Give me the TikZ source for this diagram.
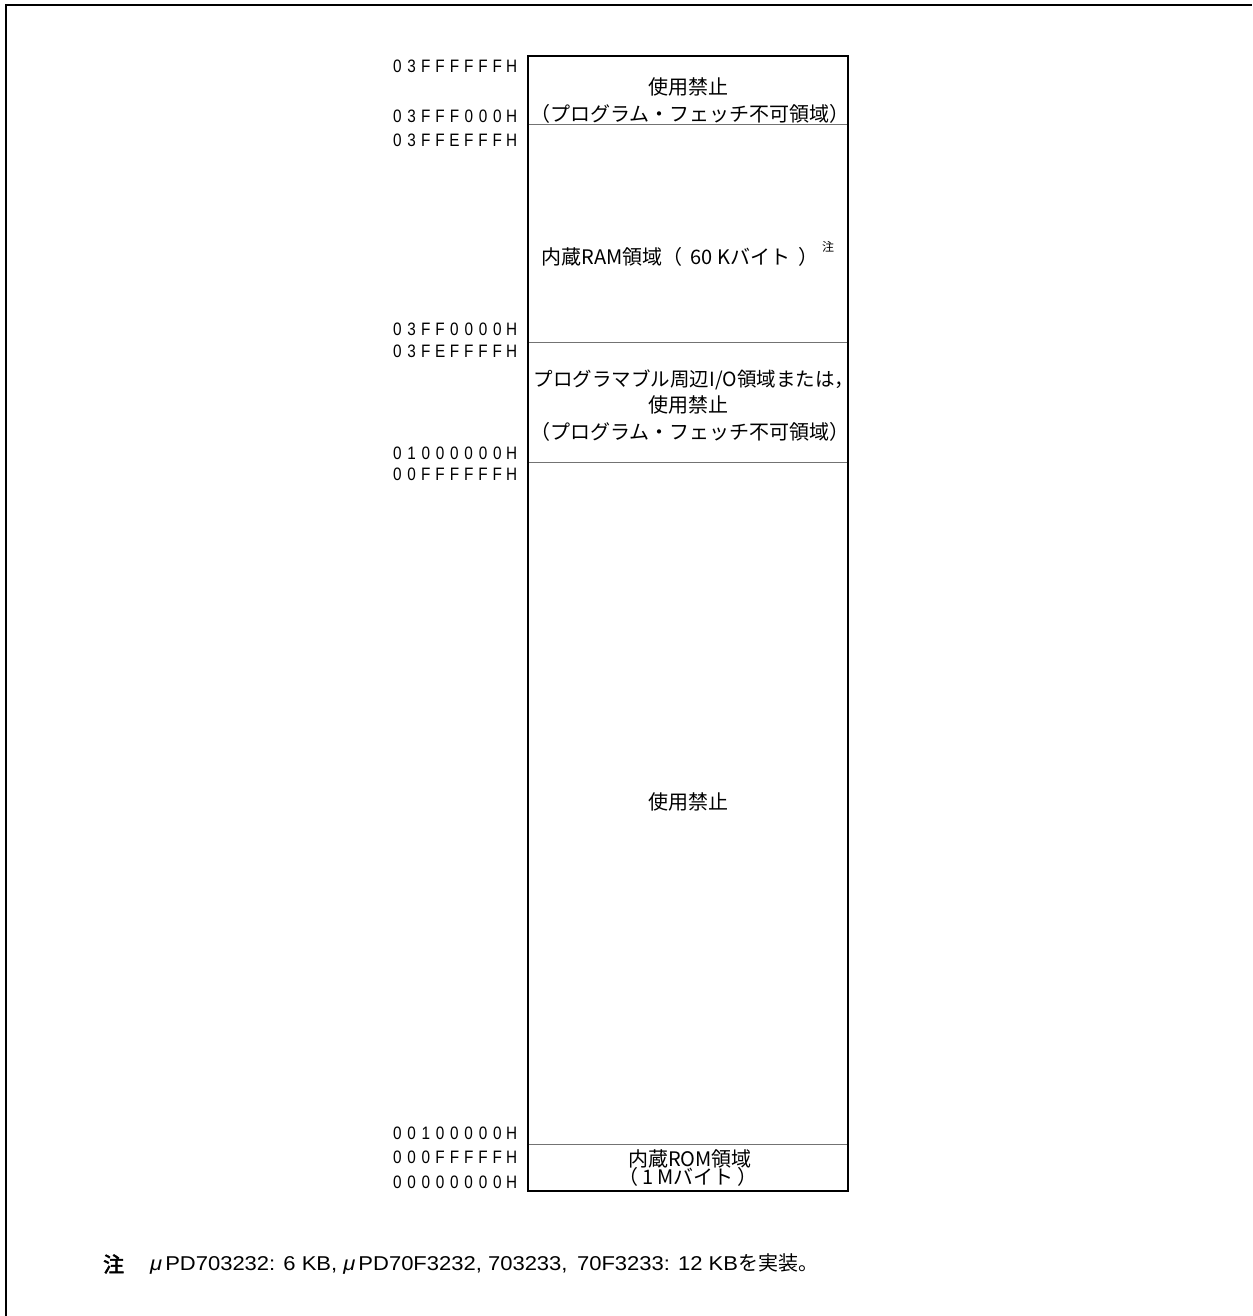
\documentclass[tikz,border=0pt]{standalone}
\usepackage{fontspec}
\setmainfont{Liberation Sans}
\newfontfamily\cjk{Noto Sans CJK JP}
\newfontfamily\cjkbold[FakeBold=2.5]{Noto Sans CJK JP}
\newfontfamily\addrfont[FakeStretch=0.85]{Liberation Sans}
\newfontfamily\notefont[FakeStretch=1.1]{Liberation Sans}
\makeatletter
\newcommand\addr[1]{{\addrfont\fontsize{18}{20}\selectfont\@tfor\ch:=#1\do{\makebox[14.3pt]{\ch}}}}
\makeatother
\tikzset{
  addrlabel/.style={inner sep=0pt, anchor=east},
  areatext/.style={inner sep=0pt, font=\cjk\fontsize{20}{24}\selectfont},
  divider/.style={line width=1pt, draw=black!55},
  mapbox/.style={line width=2.6pt, draw=black},
  frameline/.style={line width=2pt, draw=black}
}
\begin{document}
\begin{tikzpicture}[x=1pt,y=-1pt]
\useasboundingbox (0,0) rectangle (1252,1316);
\fill[white] (0,0) rectangle (1252,1316);
\draw[frameline] (6,1316) -- (6,4.6) -- (1252,4.6);
% dividers
\draw[divider] (528,125) -- (848,125);
\draw[divider] (528,342) -- (848,342);
\draw[divider] (528,462) -- (848,462);
\draw[divider] (528,1144) -- (848,1144);
\draw[mapbox] (528,56) rectangle (848,1191);
% addresses
\node[addrlabel] (a1) at (519,66) {\addr{03FFFFFFH}};
\node[addrlabel] (a2) at (519,116) {\addr{03FFF000H}};
\node[addrlabel] (a3) at (519,140) {\addr{03FFEFFFH}};
\node[addrlabel] (a4) at (519,329) {\addr{03FF0000H}};
\node[addrlabel] (a5) at (519,351) {\addr{03FEFFFFH}};
\node[addrlabel] (a6) at (519,453) {\addr{01000000H}};
\node[addrlabel] (a7) at (519,474) {\addr{00FFFFFFH}};
\node[addrlabel] (a8) at (519,1133) {\addr{00100000H}};
\node[addrlabel] (a9) at (519,1157) {\addr{000FFFFFH}};
\node[addrlabel] (a10) at (519,1182) {\addr{00000000H}};
% area texts
\node[areatext] (t1a) at (688,87) {使用禁止};
\node[areatext] (t1b) at (690,114) {（プログラム・フェッチ不可領域）};
\node[areatext] (t2) at (680,257) {内蔵RAM領域（\hspace{8pt}60 Kバイト\hspace{8pt}）};
\node[inner sep=0pt, font=\cjk\fontsize{12}{14}\selectfont] (t2n) at (828,247) {注};
\node[areatext, font=\cjk\fontsize{19.5}{24}\selectfont] (t3a) at (694,380) {プログラマブル周辺I/O領域または，};
\node[areatext] (t3b) at (688,405) {使用禁止};
\node[areatext] (t3c) at (690,432) {（プログラム・フェッチ不可領域）};
\node[areatext] (t4) at (688,802) {使用禁止};
\node[areatext] (t5a) at (690,1159) {内蔵ROM領域};
\node[areatext] (t5b) at (688,1177) {（\,1 Mバイト\,）};
% footnote
\node[inner sep=0pt, anchor=west, font=\cjkbold\fontsize{21}{24}\selectfont] (fn1) at (103,1264) {注};
\node[inner sep=0pt, anchor=west, font=\notefont\fontsize{20}{24}\selectfont] (fn2) at (150,1264) {{\itshape μ}\hspace{3pt}PD703232: 6 KB, {\itshape μ}\hspace{3pt}PD70F3232, 703233, \,70F3233: 12 KB{\cjk\fontsize{20}{24}\selectfont を実装。}};
\end{tikzpicture}
\end{document}
